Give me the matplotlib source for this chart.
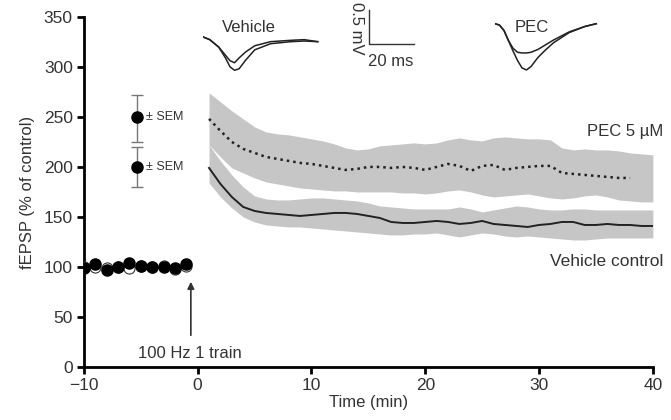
import matplotlib
matplotlib.use("Agg")
import matplotlib.pyplot as plt

plt.rcParams['font.family'] = ['Liberation Sans', 'DejaVu Sans']

# ---------- data ----------
base_t = [-10, -9, -8, -7, -6, -5, -4, -3, -2, -1]
base_vehicle = [99, 103, 97, 100, 104, 101, 100, 100, 99, 103]
base_pec = [100, 100, 99, 100, 99, 101, 100, 101, 98, 101]

t_band = list(range(1, 41))
pec_upper = [274, 265, 256, 248, 240, 235, 233, 232, 230, 228, 226, 223, 219, 217, 218,
             221, 222, 223, 224, 223, 224, 227, 229, 227, 226, 229, 230, 229, 228, 228,
             227, 219, 217, 218, 217, 217, 216, 214, 213, 212]
pec_lower = [222, 210, 199, 194, 189, 185, 183, 181, 179, 178, 177, 176, 176, 175, 175,
             175, 175, 174, 174, 173, 174, 176, 177, 175, 172, 170, 171, 172, 173, 171,
             169, 168, 169, 171, 172, 170, 167, 166, 165, 165]
t_pec = list(range(1, 39))
pec_mean = [248, 236, 225, 218, 214, 210, 208, 206, 204, 203, 201, 199, 197, 198, 200,
            200, 199, 200, 199, 197, 200, 203, 201, 196, 201, 202, 197, 199, 200, 201,
            201, 194, 193, 192, 191, 190, 189, 189]

veh_mean = [199, 183, 170, 160, 156, 154, 153, 152, 151, 152, 153, 154, 154, 153, 151,
            149, 145, 144, 144, 145, 146, 145, 143, 144, 146, 143, 142, 141, 140, 142,
            143, 145, 145, 142, 142, 143, 142, 142, 141, 141]
veh_upper = [222, 206, 192, 180, 171, 168, 167, 167, 168, 169, 169, 168, 167, 166, 164,
             161, 160, 159, 158, 158, 158, 158, 160, 158, 155, 157, 159, 161, 160, 158,
             157, 157, 158, 158, 157, 157, 157, 157, 157, 157]
veh_lower = [184, 170, 159, 150, 145, 142, 141, 140, 140, 139, 138, 137, 136, 135, 134,
             133, 132, 132, 133, 133, 134, 132, 130, 132, 134, 133, 131, 130, 131, 130,
             129, 128, 127, 127, 128, 129, 129, 129, 129, 129]

sem_y = [250, 200]
sem_err = [[25, 20], [22, 20]]

# example traces (ms, mV)
veh_tr_t = [0, 3, 7, 10, 12, 14, 16, 19, 23, 30, 39, 45, 51]
veh_tr_a = [0, -0.04, -0.15, -0.31, -0.44, -0.49, -0.47, -0.34, -0.19, -0.10, -0.07, -0.06, -0.07]
veh_tr_b = [0, -0.04, -0.15, -0.27, -0.35, -0.38, -0.31, -0.22, -0.13, -0.07, -0.05, -0.04, -0.07]
pec_tr_t = [0, 2, 4, 6, 8, 10, 12, 14, 16, 19, 22, 26, 33, 40, 45]
pec_tr_a = [0, -0.02, -0.10, -0.25, -0.40, -0.54, -0.65, -0.68, -0.63, -0.50, -0.40, -0.28, -0.13, -0.04, 0.0]
pec_tr_b = [0, -0.02, -0.10, -0.25, -0.36, -0.42, -0.43, -0.43, -0.42, -0.38, -0.32, -0.24, -0.12, -0.04, 0.0]

# ---------- figure ----------
fig = plt.figure(figsize=(6.71, 4.2), dpi=100)
ax = fig.add_axes([0.125, 0.126, 0.848, 0.834])

# SEM bands and means
ax.fill_between(t_band, pec_lower, pec_upper, color='#c6c6c6', lw=0, zorder=1)
ax.fill_between(t_band, veh_lower, veh_upper, color='#c6c6c6', lw=0, zorder=1)
ax.plot(t_pec, pec_mean, color='#222222', lw=1.8, ls=(0, (1, 1.6)), zorder=3)
ax.plot(t_band, veh_mean, color='#222222', lw=1.4, zorder=3)

# baseline
ax.plot(base_t, base_pec, 'o', ms=8, mfc='white', mec='#333333', mew=0.8, zorder=4)
ax.plot(base_t, base_vehicle, 'o', ms=8, mfc='black', mec='black', zorder=5)

# SEM key
ax.errorbar([-5.3, -5.3], sem_y, yerr=sem_err, fmt='o', ms=8, color='black',
            ecolor='#777777', elinewidth=1.0, capsize=4, capthick=1.0, zorder=5)
for yy in sem_y:
    ax.text(-4.5, yy, u'\u00b1 SEM', fontsize=9, va='center', ha='left', color='#333333')

# stimulus arrow
ax.annotate('', xy=(-0.6, 88), xytext=(-0.6, 29),
            arrowprops=dict(arrowstyle='-|>', color='#333333', lw=1.2, mutation_scale=10))
ax.text(-0.7, 14, '100 Hz 1 train', fontsize=12, ha='center', va='center', color='#333333')

ax.text(34.2, 235, u'PEC 5 \u00b5M', fontsize=12, ha='left', va='center', color='#333333')
ax.text(31.0, 105, 'Vehicle control', fontsize=12.5, ha='left', va='center', color='#333333')

ax.set_xlim(-10, 40)
ax.set_ylim(0, 350)
ax.set_xticks([-10, 0, 10, 20, 30, 40])
ax.set_xticklabels([u'\u221210', '0', '10', '20', '30', '40'])
ax.set_yticks(range(0, 351, 50))
ax.spines['top'].set_visible(False)
ax.spines['right'].set_visible(False)
for s in ['left', 'bottom']:
    ax.spines[s].set_linewidth(2)
ax.tick_params(direction='out', length=5, width=2, labelsize=12.5, colors='black',
               labelcolor='#333333', pad=3)
ax.set_xlabel('Time (min)', fontsize=12, color='#333333', labelpad=1)
ax.set_ylabel('fEPSP (% of control)', fontsize=12, color='#333333', labelpad=6)

# ---------- inset traces ----------
# 20 ms = 45 px, 0.5 mV = 34 px
ax_v = fig.add_axes([203 / 671, 1 - 75 / 420, (52 * 2.25) / 671, (0.6 * 68) / 420])
ax_v.plot(veh_tr_t, veh_tr_a, color='#222222', lw=1.1)
ax_v.plot(veh_tr_t, veh_tr_b, color='#222222', lw=1.1)
ax_v.set_xlim(0, 52)
ax_v.set_ylim(-0.56, 0.04)
ax_v.axis('off')
fig.text(222 / 671, 1 - 27 / 420, 'Vehicle', fontsize=12, color='#333333', va='center')

ax_p = fig.add_axes([495 / 671, 1 - 72 / 420, (46 * 2.25) / 671, (0.75 * 68) / 420])
ax_p.plot(pec_tr_t, pec_tr_a, color='#222222', lw=1.1)
ax_p.plot(pec_tr_t, pec_tr_b, color='#222222', lw=1.1)
ax_p.set_xlim(0, 46)
ax_p.set_ylim(-0.71, 0.04)
ax_p.axis('off')
fig.text(515 / 671, 1 - 27 / 420, 'PEC', fontsize=12, color='#333333', va='center')

# scale bar
fig.add_artist(plt.Line2D([369 / 671, 369 / 671, 414 / 671],
                          [1 - 10 / 420, 1 - 44 / 420, 1 - 44 / 420],
                          color='#333333', lw=1.0))
fig.text(356 / 671, 1 - 28 / 420, '0.5 mV', fontsize=12, rotation=-90,
         ha='center', va='center', color='#333333')
fig.text(391 / 671, 1 - 62 / 420, '20 ms', fontsize=12, ha='center', va='center',
         color='#333333')

fig.savefig('out.png', dpi=100)
